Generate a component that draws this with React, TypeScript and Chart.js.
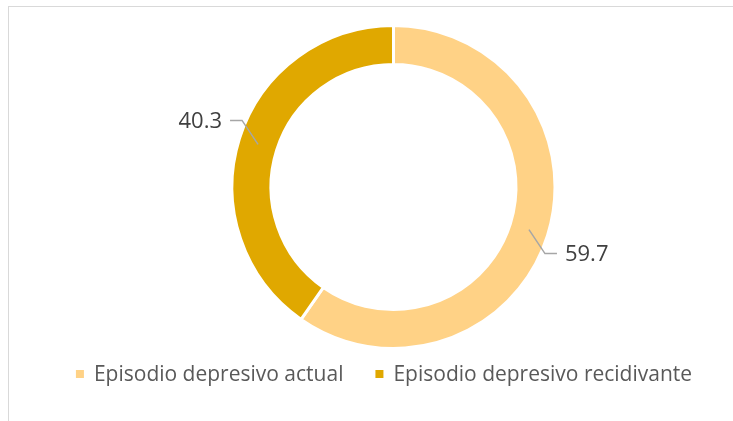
import React, { useEffect, useRef } from "react";
import { Chart, registerables } from "chart.js";

Chart.register(...registerables);

const categories: string[] = ["Episodio depresivo actual", "Episodio depresivo recidivante"];
const values: number[] = [59.7, 40.3];
const sliceColors: string[] = ["#FFD286", "#E0A800"];

const FONT = "'Open Sans', 'Liberation Sans', sans-serif";

// Value labels outside the ring with an elbowed leader line
const valueLabels = {
  id: "valueLabels",
  afterDatasetsDraw(chart: any) {
    const { ctx } = chart;
    const meta = chart.getDatasetMeta(0);
    const data = chart.data.datasets[0].data as number[];
    ctx.save();
    meta.data.forEach((arc: any, i: number) => {
      const { x, y, startAngle, endAngle, innerRadius, outerRadius } = arc.getProps(
        ["x", "y", "startAngle", "endAngle", "innerRadius", "outerRadius"],
        true
      );
      const mid = (startAngle + endAngle) / 2;
      const r = (innerRadius + outerRadius) / 2;
      const ax = x + Math.cos(mid) * r;
      const ay = y + Math.sin(mid) * r;
      const sx = Math.cos(mid) >= 0 ? 1 : -1;
      const sy = Math.sin(mid) >= 0 ? 1 : -1;
      const ex = ax + sx * 16;
      const ey = ay + sy * 24;
      const hx = ex + sx * 12;
      ctx.beginPath();
      ctx.moveTo(ax, ay);
      ctx.lineTo(ex, ey);
      ctx.lineTo(hx, ey);
      ctx.strokeStyle = "#A6A6A6";
      ctx.lineWidth = 1.5;
      ctx.stroke();
      ctx.font = `22px ${FONT}`;
      ctx.fillStyle = "#404040";
      ctx.textBaseline = "middle";
      ctx.textAlign = sx > 0 ? "left" : "right";
      ctx.fillText(data[i].toFixed(1), hx + sx * 8, ey + 1);
    });
    ctx.restore();
  },
};

// Single-row legend with small square markers under the ring
const squareLegend = {
  id: "squareLegend",
  afterDraw(chart: any, _args: any, opts: any) {
    const { ctx } = chart;
    const ds = chart.data.datasets[0];
    const labels = chart.data.labels as string[];
    const box = 8;
    const gap = 10;
    const spacing = 32;
    ctx.save();
    ctx.font = `21px ${FONT}`;
    const widths = labels.map((l) => ctx.measureText(l).width);
    const total =
      widths.reduce((s, w) => s + box + gap + w, 0) + spacing * (labels.length - 1);
    let cx = opts.centerX - total / 2;
    const cy = opts.y;
    labels.forEach((l, i) => {
      ctx.fillStyle = ds.backgroundColor[i];
      ctx.fillRect(cx, cy - box / 2, box, box);
      ctx.fillStyle = "#595959";
      ctx.textBaseline = "middle";
      ctx.textAlign = "left";
      ctx.fillText(l, cx + box + gap, cy + 1);
      cx += box + gap + widths[i] + spacing;
    });
    ctx.restore();
  },
};

export default function App() {
  const canvasRef = useRef<HTMLCanvasElement | null>(null);

  useEffect(() => {
    if (!canvasRef.current) return;
    const chart = new Chart(canvasRef.current, {
      type: "doughnut",
      data: {
        labels: categories,
        datasets: [
          {
            data: values,
            backgroundColor: sliceColors,
            borderColor: "#FFFFFF",
            borderWidth: 3,
            hoverOffset: 0,
          },
        ],
      },
      options: {
        responsive: false,
        animation: false,
        cutout: "75.85%",
        layout: {
          padding: { left: 230.5, right: 176.5, top: 24, bottom: 71 },
        },
        plugins: {
          legend: { display: false },
          tooltip: { enabled: false },
          squareLegend: { centerX: 384, y: 374 },
        } as any,
      },
      plugins: [valueLabels, squareLegend],
    });
    return () => chart.destroy();
  }, []);

  return (
    <div
      style={{
        position: "fixed",
        left: 0,
        top: 0,
        width: 733,
        height: 421,
        overflow: "hidden",
        background: "#FFFFFF",
      }}
    >
      <div
        style={{
          position: "absolute",
          left: 8,
          top: 6,
          width: 800,
          height: 500,
          border: "1.5px solid #D9D9D9",
        }}
      />
      <canvas
        ref={canvasRef}
        width={733}
        height={421}
        style={{ position: "absolute", left: 0, top: 0, width: 733, height: 421 }}
      />
    </div>
  );
}
